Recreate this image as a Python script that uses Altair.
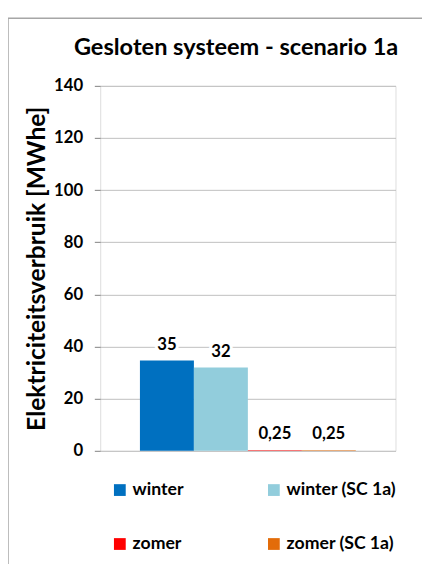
import altair as alt
import pandas as pd

categories = ["winter", "winter (SC 1a)", "zomer", "zomer (SC 1a)"]
values = [34.6, 32.0, 0.25, 0.25]
labels = ["35", "32", "0,25", "0,25"]
colors = ["#0070C0", "#92CDDC", "#FF0000", "#E36C09"]
y_ticks = [0, 20, 40, 60, 80, 100, 120, 140]
chart_title = "Gesloten systeem - scenario 1a"
y_title = "Elektriciteitsverbruik [MWhe]"

df = pd.DataFrame({"cat": categories, "val": values, "lab": labels})
FONT = "Lato"

x_enc = alt.X("cat:N", sort=categories, axis=None,
              scale=alt.Scale(paddingInner=0, paddingOuter=0.736))
y_scale = alt.Scale(domain=[0, 140], nice=False)

bars = alt.Chart(df).mark_bar().encode(
    x=x_enc,
    y=alt.Y("val:Q", scale=y_scale,
            axis=alt.Axis(values=y_ticks, title=y_title,
                          domain=False, grid=True, gridColor="#BFBFBF", gridWidth=1,
                          tickColor="#808080", tickSize=6, labelPadding=12,
                          labelFont=FONT, labelFontSize=17, labelFontWeight="bold",
                          labelColor="#000000",
                          titleFont=FONT, titleFontSize=25, titleFontWeight="bold",
                          titleColor="#000000", titleX=-65, titleY=186,
                          titleAngle=270, titleAlign="center", titleBaseline="middle")),
    color=alt.Color("cat:N", sort=categories,
                    scale=alt.Scale(domain=categories, range=colors),
                    legend=alt.Legend(title=None, orient="none", legendX=11, legendY=403,
                                      direction="horizontal",
                                      columns=2, columnPadding=83, rowPadding=37,
                                      symbolType="square", symbolSize=144,
                                      symbolStrokeWidth=0, labelOffset=4, padding=0,
                                      labelFont=FONT, labelFontSize=18,
                                      labelFontWeight="bold", labelColor="#000000")),
)

halo = alt.Chart(df).mark_text(baseline="bottom", dy=-7, font=FONT, fontSize=17,
                               fontWeight="bold", stroke="white", strokeWidth=6,
                               fill="white").encode(
    x=x_enc, y=alt.Y("val:Q", scale=y_scale), text="lab:N")
text = alt.Chart(df).mark_text(baseline="bottom", dy=-7, font=FONT, fontSize=17,
                               fontWeight="bold", color="#000000").encode(
    x=x_enc, y=alt.Y("val:Q", scale=y_scale), text="lab:N")

one = pd.DataFrame({"t": [chart_title]})
frame = alt.Chart(one).mark_rect(
    fill="transparent", stroke="#A6A6A6", strokeWidth=1.5).encode(
    x=alt.value(-94), x2=alt.value(600), y=alt.value(-69), y2=alt.value(700))

title = alt.Chart(one).mark_text(font=FONT, fontSize=24, fontWeight="bold",
                                 color="#000000", align="center",
                                 baseline="alphabetic").encode(
    x=alt.value(138.5), y=alt.value(-31), text="t:N")

chart = alt.layer(frame, bars, halo, text, title).properties(
    width=301, height=372,
    autosize=alt.AutoSizeParams(type="none"),
    padding={"left": 94, "top": 74, "right": 27, "bottom": 110},
).configure_view(stroke="#000000", strokeWidth=1.5).configure(background="white")

chart.save("out.html", embed_options={"renderer": "svg", "actions": False})
